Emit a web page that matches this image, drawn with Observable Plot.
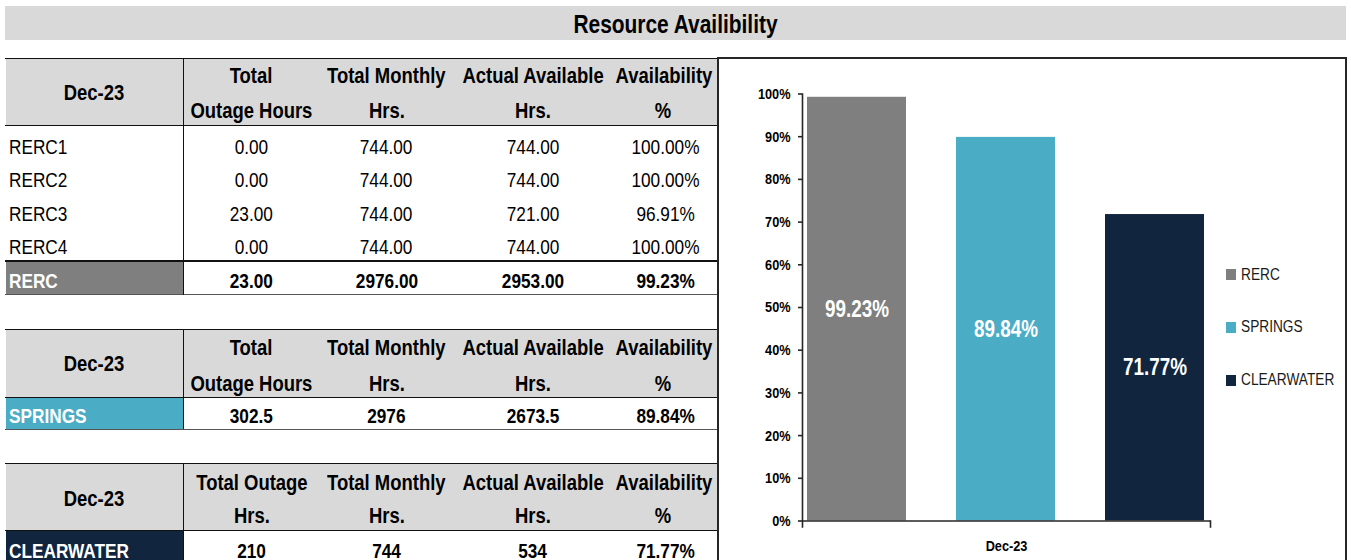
<!DOCTYPE html>
<html>
<head>
<meta charset="utf-8">
<script src="https://cdn.jsdelivr.net/npm/d3@7"></script>
<script src="https://cdn.jsdelivr.net/npm/@observablehq/plot@0.6"></script>
<style>
  html, body { margin: 0; padding: 0; background: #fff; }
  #page { position: relative; width: 1351px; height: 560px; overflow: hidden; background: #fff; }
  .abs { position: absolute; }
  .t { position: absolute; white-space: nowrap; }
  .t > span { display: inline-block; }
</style>
</head>
<body>
<div id="page"></div>
<script>
// ---------------- DATA ----------------
const title = "Resource Availibility";
const month = "Dec-23";
const rercUnits = ["RERC1", "RERC2", "RERC3", "RERC4"];
const rercOutage = [0, 0, 23, 0];
const rercMonthly = [744, 744, 744, 744];
const rercActual = [744, 744, 721, 744];
const rercAvail = [100, 100, 96.91, 100];
const groups = ["RERC", "SPRINGS", "CLEARWATER"];
const groupOutage = [23, 302.5, 210];
const groupMonthly = [2976, 2976, 744];
const groupActual = [2953, 2673.5, 534];
const groupAvail = [99.23, 89.84, 71.77];
const groupColors = ["#7f7f7f", "#4bacc6", "#11253e"];
const headersA = [["Total", "Outage Hours"], ["Total Monthly", "Hrs."], ["Actual Available", "Hrs."], ["Availability", "%"]];
const headersB = [["Total Outage", "Hrs."], ["Total Monthly", "Hrs."], ["Actual Available", "Hrs."], ["Availability", "%"]];
const yTicks = [0, 10, 20, 30, 40, 50, 60, 70, 80, 90, 100];

// ---------------- FONT ----------------
function hasFont(name) {
  const c = document.createElement("canvas").getContext("2d");
  const s = "Total Monthly Hrs 0123456789";
  c.font = "bold 40px monospace";
  const a = c.measureText(s).width;
  c.font = `bold 40px '${name}', monospace`;
  const b = c.measureText(s).width;
  return Math.abs(a - b) > 0.5;
}
const narrow = hasFont("Liberation Sans Narrow");
const fam = narrow ? "'Liberation Sans Narrow', 'Arial Narrow', sans-serif" : "'Liberation Sans', Arial, sans-serif";
const sx = narrow ? 1 : 0.82;

const page = document.getElementById("page");
page.style.fontFamily = fam;

function box(left, top, width, height, bg) {
  const d = document.createElement("div");
  d.className = "abs";
  Object.assign(d.style, {left: left + "px", top: top + "px", width: width + "px", height: height + "px", background: bg});
  page.appendChild(d);
  return d;
}
function txt(str, o) {
  const d = document.createElement("div");
  d.className = "t";
  const size = o.size || 21;
  const lh = 30;
  Object.assign(d.style, {
    left: o.left + "px", width: o.width + "px", top: (o.cy - lh / 2) + "px", height: lh + "px",
    lineHeight: lh + "px", textAlign: o.align || "center", fontSize: size + "px",
    fontWeight: o.bold ? "bold" : "normal", color: o.color || "#000", fontFamily: fam
  });
  const s = document.createElement("span");
  s.textContent = str;
  s.style.transform = `scaleX(${sx})`;
  s.style.transformOrigin = (o.align === "left") ? "left center" : "center center";
  d.appendChild(s);
  page.appendChild(d);
  return d;
}

// ---------------- TITLE ----------------
box(5, 6, 1341, 34, "#d9d9d9");
txt(title, {left: 5, width: 1341, cy: 24, bold: true, size: 25.5});

// ---------------- TABLES ----------------
const colX = [5, 183, 320, 453, 613, 718];
const fmt2 = v => v.toFixed(2);
const plain = v => String(v);
const pct = v => v.toFixed(2) + "%";
const HS = 22.5; // header font size

function header(top, headBottom, heads, cy1, cy2, cyDec) {
  box(6, top, 712, headBottom - top, "#d9d9d9");
  box(5, top - 0.5, 713, 1.5, "#111");
  box(5, headBottom - 0.5, 713, 1.5, "#111");
  txt(month, {left: colX[0], width: colX[1] - colX[0], cy: cyDec, bold: true, size: HS});
  heads.forEach((h, i) => {
    const L = colX[i + 1] - 10, W = colX[i + 2] - colX[i + 1] + 20;
    txt(h[0], {left: L, width: W - (i === 3 ? 4 : 0), cy: cy1, bold: true, size: HS});
    txt(h[1], {left: L, width: W - (i === 3 ? 4 : 0), cy: cy2, bold: true, size: HS});
  });
}
function dataRow(label, vals, cy, bold, labelColor) {
  txt(label, {left: colX[0] + 4, width: colX[1] - colX[0] - 4, cy, align: "left", bold, color: labelColor || "#000"});
  vals.forEach((v, i) => txt(v, {left: colX[i + 1], width: colX[i + 2] - colX[i + 1], cy, bold}));
}
function vline(top, bottom) { box(182.5, top, 1.2, bottom - top, "#111"); }

// Table 1 (RERC)
header(58, 125, headersA, 76, 110.5, 92.5);
const rowCy = [146.5, 180, 213.5, 247];
rercUnits.forEach((u, i) => dataRow(u, [fmt2(rercOutage[i]), fmt2(rercMonthly[i]), fmt2(rercActual[i]), pct(rercAvail[i])], rowCy[i], false));
box(6, 261.5, 176.5, 32, groupColors[0]);
box(5, 259.5, 713, 2.5, "#111");
box(5, 293.5, 713, 1.5, "#555");
dataRow(groups[0], [fmt2(groupOutage[0]), fmt2(groupMonthly[0]), fmt2(groupActual[0]), pct(groupAvail[0])], 281, true, "#fff");
vline(58, 295);

// Table 2 (SPRINGS)
header(329, 397, headersA, 347.5, 384, 364);
box(6, 397.5, 176.5, 31, groupColors[1]);
box(5, 428.5, 713, 1.5, "#555");
dataRow(groups[1], [plain(groupOutage[1]), plain(groupMonthly[1]), plain(groupActual[1]), pct(groupAvail[1])], 415.5, true, "#fff");
vline(329, 429);

// Table 3 (CLEARWATER)
header(463, 530, headersB, 483.3, 516, 499);
box(6, 530.5, 176.5, 34, groupColors[2]);
dataRow(groups[2], [plain(groupOutage[2]), plain(groupMonthly[2]), plain(groupActual[2]), pct(groupAvail[2])], 550.5, true, "#fff");
vline(463, 560);

// ---------------- CHART ----------------
const frameDiv = box(717, 57, 630, 510, "#fff");
Object.assign(frameDiv.style, {boxSizing: "border-box", borderLeft: "2px solid #262626", borderTop: "2px solid #262626", borderRight: "2px solid #262626"});

const chartData = groups.map((g, i) => ({month, group: g, avail: groupAvail[i]}));
const plot = Plot.plot({
  width: 629, height: 502,
  marginLeft: 84, marginRight: 136.5, marginTop: 35.5, marginBottom: 39.5,
  style: {fontFamily: fam, background: "transparent", overflow: "visible", color: "#000"},
  fx: {padding: 0, label: null},
  x: {domain: groups, paddingInner: 0.334, paddingOuter: 0.036, axis: null},
  y: {domain: [0, 100]},
  color: {domain: groups, range: groupColors},
  marks: [
    Plot.barY(chartData, {fx: "month", x: "group", y: "avail", fill: "group"}),
    Plot.text(chartData, {fx: "month", x: "group", y: d => d.avail / 2, text: d => pct(d.avail), fill: "white", fontWeight: "bold", fontSize: 23}),
    Plot.ruleY([0], {stroke: "#262626", strokeWidth: 1.6}),
    Plot.frame({anchor: "left", stroke: "#262626", strokeWidth: 1.6, insetBottom: -6}),
    Plot.frame({anchor: "right", stroke: "#262626", strokeWidth: 1.6, insetTop: 427, insetBottom: -6}),
    Plot.axisY({ticks: yTicks, tickFormat: d => d + "%", tickSize: 4, tickPadding: 8, fontSize: 15.5, fontWeight: "bold", label: null, stroke: "#262626", strokeWidth: 1.6}),
    Plot.axisFx({anchor: "bottom", tickSize: 0, tickPadding: 19, fontSize: 15.5, fontWeight: "bold", label: null})
  ]
});
plot.style.position = "absolute";
plot.style.left = "718px";
plot.style.top = "58px";
page.appendChild(plot);
if (!narrow) {
  plot.querySelectorAll("text").forEach(t => {
    const L = t.getComputedTextLength();
    if (L > 0) { t.setAttribute("textLength", L * sx); t.setAttribute("lengthAdjust", "spacingAndGlyphs"); }
  });
}

// ---------------- LEGEND ----------------
const legendCy = [274.5, 327, 380];
groups.forEach((g, i) => {
  box(1226, legendCy[i] - 5.5, 10, 11, groupColors[i]);
  txt(g, {left: 1241, width: 110, cy: legendCy[i], align: "left", size: 16.7, color: "#1a1a1a"});
});
</script>
</body>
</html>
